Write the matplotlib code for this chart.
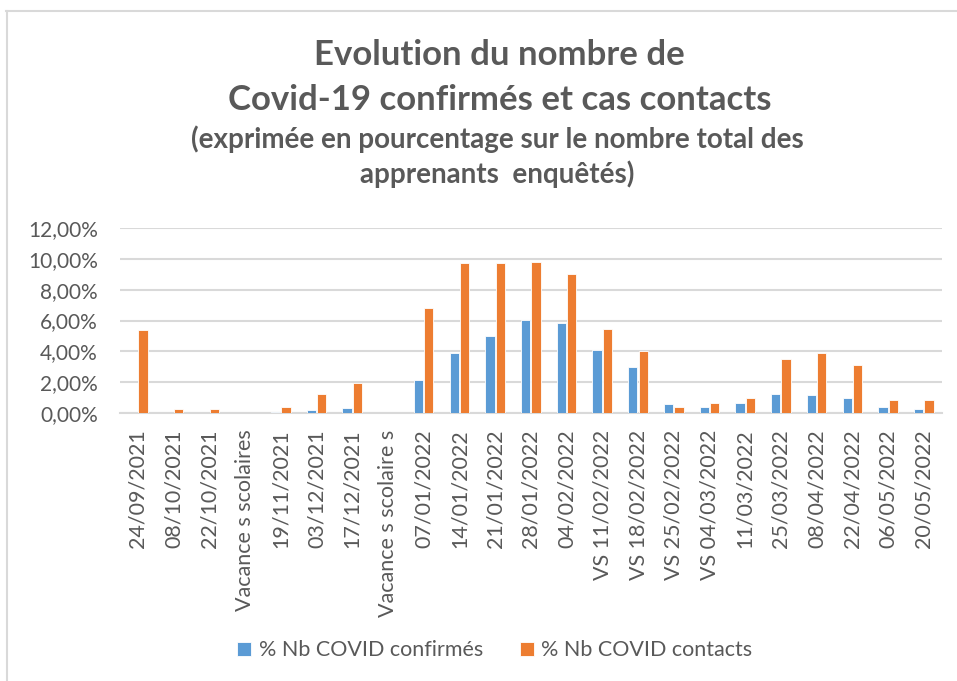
import matplotlib
matplotlib.use("Agg")
import matplotlib.pyplot as plt
import numpy as np

plt.rcParams['font.family'] = ['Lato', 'DejaVu Sans']

categories = ["24/09/2021", "08/10/2021", "22/10/2021", "Vacance s scolaires",
              "19/11/2021", "03/12/2021", "17/12/2021", "Vacance s scolaire s",
              "07/01/2022", "14/01/2022", "21/01/2022", "28/01/2022", "04/02/2022",
              "VS 11/02/2022", "VS 18/02/2022", "VS 25/02/2022", "VS 04/03/2022",
              "11/03/2022", "25/03/2022", "08/04/2022", "22/04/2022",
              "06/05/2022", "20/05/2022"]
confirmes = [0.0, 0.0, 0.0, 0.0, 0.09, 0.17, 0.35, 0.0, 2.17, 3.92, 4.99, 6.01, 5.82,
             4.09, 3.01, 0.61, 0.41, 0.67, 1.26, 1.17, 1.0, 0.41, 0.24]
contacts = [5.41, 0.24, 0.24, 0.0, 0.41, 1.26, 1.93, 0.0, 6.84, 9.73, 9.73, 9.82, 9.0,
            5.43, 4.0, 0.41, 0.67, 1.0, 3.5, 3.92, 3.09, 0.82, 0.82]
yticks = [0, 2, 4, 6, 8, 10, 12]

blue = '#5B9BD5'
orange = '#ED7D31'
grey = '#595959'

fig = plt.figure(figsize=(9.57, 6.81), dpi=100)
ax = fig.add_axes([0.1254, 0.3935, 0.8586, 0.2717])

x = np.arange(len(categories))
w = 0.26
ax.bar(x - 0.145, confirmes, w, color=blue, edgecolor='white', linewidth=0.6,
       label='% Nb COVID confirmés', zorder=3)
ax.bar(x + 0.145, contacts, w, color=orange, edgecolor='white', linewidth=0.6,
       label='% Nb COVID contacts', zorder=3)

ax.set_xlim(-0.5, len(categories) - 0.5)
ax.set_ylim(0, 12)
ax.set_yticks(yticks)
ax.set_yticklabels([f"{v:.2f}".replace('.', ',') + '%' for v in yticks],
                   fontsize=15, color=grey)
ax.set_xticks(x)
ax.set_xticklabels(categories, rotation=90, fontsize=15.5, color=grey, va='top', ha='center')
ax.tick_params(axis='both', length=0)
ax.tick_params(axis='x', pad=12)
ax.tick_params(axis='y', pad=16)

ax.yaxis.grid(True, color='#D9D9D9', linewidth=1.5, zorder=0)
for s in ['top', 'right', 'left']:
    ax.spines[s].set_visible(False)
ax.spines['bottom'].set_color('#D9D9D9')
ax.spines['bottom'].set_linewidth(1.5)

fig.text(0.522, 0.905, "Evolution du nombre de", ha='center', va='baseline',
         fontsize=25, fontweight='bold', color=grey)
fig.text(0.522, 0.838, "Covid-19 confirmés et cas contacts", ha='center', va='baseline',
         fontsize=25, fontweight='bold', color=grey)
fig.text(0.52, 0.783, "(exprimée en pourcentage sur le nombre total des", ha='center',
         va='baseline', fontsize=20, fontweight='bold', color=grey)
fig.text(0.52, 0.731, "apprenants  enquêtés)", ha='center', va='baseline',
         fontsize=20, fontweight='bold', color=grey)

leg = fig.legend(loc='center', bbox_to_anchor=(0.517, 0.045), ncol=2, frameon=False,
                 fontsize=15.5, handlelength=0.65, handleheight=0.65, handletextpad=0.35,
                 columnspacing=1.7)
for t in leg.get_texts():
    t.set_color(grey)

# outer chart frame (only top and left visible in the original crop)
fig.add_artist(plt.Line2D([0.006, 1.0], [0.984, 0.984], color='#D9D9D9', linewidth=1.5,
                          transform=fig.transFigure))
fig.add_artist(plt.Line2D([0.007, 0.007], [0.0, 0.984], color='#D9D9D9', linewidth=1.5,
                          transform=fig.transFigure))

fig.savefig('out.png', dpi=100)
